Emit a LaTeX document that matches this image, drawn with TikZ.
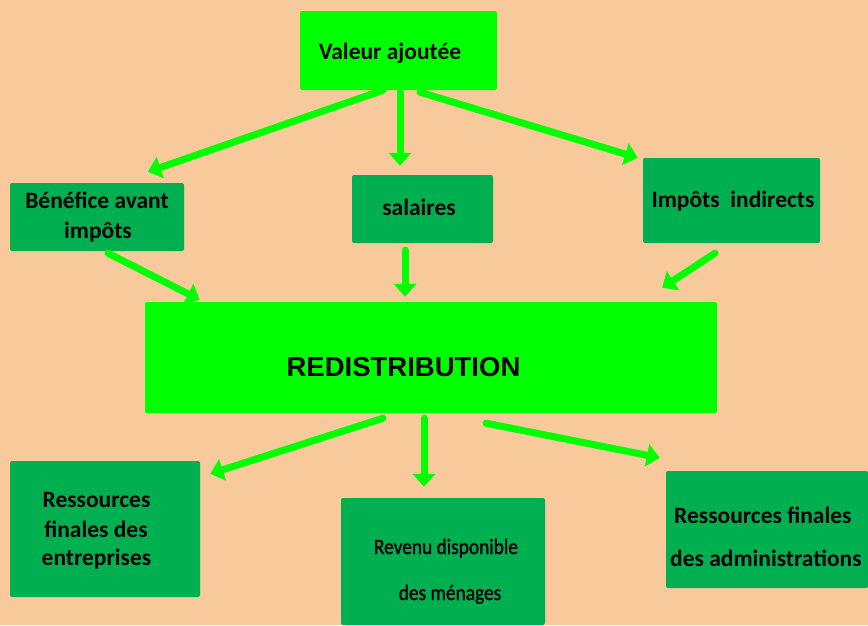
\documentclass[tikz,border=0pt]{standalone}
\usepackage{fontspec}
\usetikzlibrary{arrows.meta}
\newfontfamily\calfont{Carlito}
\newfontfamily\condfont{Carlito}[FakeStretch=0.88,FakeBold=1.3]
\newfontfamily\arialfont{Liberation Sans}
\definecolor{bg}{HTML}{F7C99B}
\definecolor{lgreen}{HTML}{00FF00}
\definecolor{dgreen}{HTML}{00B050}
\begin{document}
\begin{tikzpicture}[x=1pt,y=-1pt,
  box/.style={rectangle,rounded corners=2pt,inner sep=0pt},
  lbox/.style={box,fill=lgreen},
  dbox/.style={box,fill=dgreen},
  txt/.style={inner sep=0pt,anchor=base,text=black,font=\calfont\bfseries\fontsize{23.5}{28}\selectfont},
  ctxt/.style={inner sep=0pt,anchor=base,text=black,font=\condfont\fontsize{22}{26}\selectfont},
  arr/.style={draw=lgreen,line width=7pt,line cap=round,-{Triangle[width=22pt,length=13pt]}}]
\fill[bg] (0,0) rectangle (868,625);
\useasboundingbox (0,0) rectangle (868,625);
% boxes
\node[lbox,minimum width=197pt,minimum height=79pt] (va) at (398.5,50.5) {};
\node[dbox,minimum width=174pt,minimum height=68pt] (ben) at (97,217) {};
\node[dbox,minimum width=141pt,minimum height=68pt] (sal) at (422.5,209) {};
\node[dbox,minimum width=177pt,minimum height=85pt] (imp) at (731.5,200.5) {};
\node[lbox,minimum width=572pt,minimum height=111pt] (red) at (431,357.5) {};
\node[dbox,minimum width=190pt,minimum height=136pt] (ent) at (105,529) {};
\node[dbox,minimum width=204pt,minimum height=127pt] (rev) at (443,561.5) {};
\node[dbox,minimum width=202pt,minimum height=117pt] (adm) at (767,529.5) {};
% texts
\node[txt] (tva) at (390,59) {Valeur ajoutée};
\node[txt] (tben1) at (97,208) {Bénéfice avant};
\node[txt] (tben2) at (98,238) {impôts};
\node[txt] (tsal) at (419,215) {salaires};
\node[txt] (timp) at (733,207) {Impôts~~indirects};
\node[inner sep=0pt,anchor=base,font=\arialfont\bfseries\fontsize{27.5}{30}\selectfont] (tred) at (403.5,376) {REDISTRIBUTION};
\node[txt] (tent1) at (96.5,507) {Ressources};
\node[txt] (tent2) at (96,537) {finales des};
\node[txt] (tent3) at (96.5,565) {entreprises};
\node[ctxt] (trev1) at (446,554) {Revenu disponible};
\node[ctxt] (trev2) at (450,600) {des ménages};
\node[txt,anchor=base west] (tadm1) at (674,523) {Ressources finales};
\node[txt,anchor=base west] (tadm2) at (670,566) {des administrations};
% arrows
\draw[arr] ([shift={(-15.5,0)}]va.south) -- ([shift={(51,-11)}]ben.north);
\draw[arr] ([shift={(1.5,2)}]va.south) -- ([shift={(-22.5,-9)}]sal.north);
\draw[arr] ([shift={(21.5,2)}]va.south) -- ([shift={(-5,0)}]imp.north west);
\draw[arr] ([shift={(11,2)}]ben.south) -- ([shift={(55,-2)}]red.north west);
\draw[arr] ([shift={(-17.5,7)}]sal.south) -- ([shift={(-26,-5)}]red.north);
\draw[arr] ([shift={(-16.5,10)}]imp.south) -- ([shift={(-55,-14)}]red.north east);
\draw[arr] ([shift={(-48,5)}]red.south) -- ([shift={(10,13)}]ent.north east);
\draw[arr] ([shift={(-7,5)}]red.south) -- ([shift={(-19,-11)}]rev.north);
\draw[arr] ([shift={(55,10)}]red.south) -- ([shift={(-6,-13)}]adm.north west);
\end{tikzpicture}
\end{document}
